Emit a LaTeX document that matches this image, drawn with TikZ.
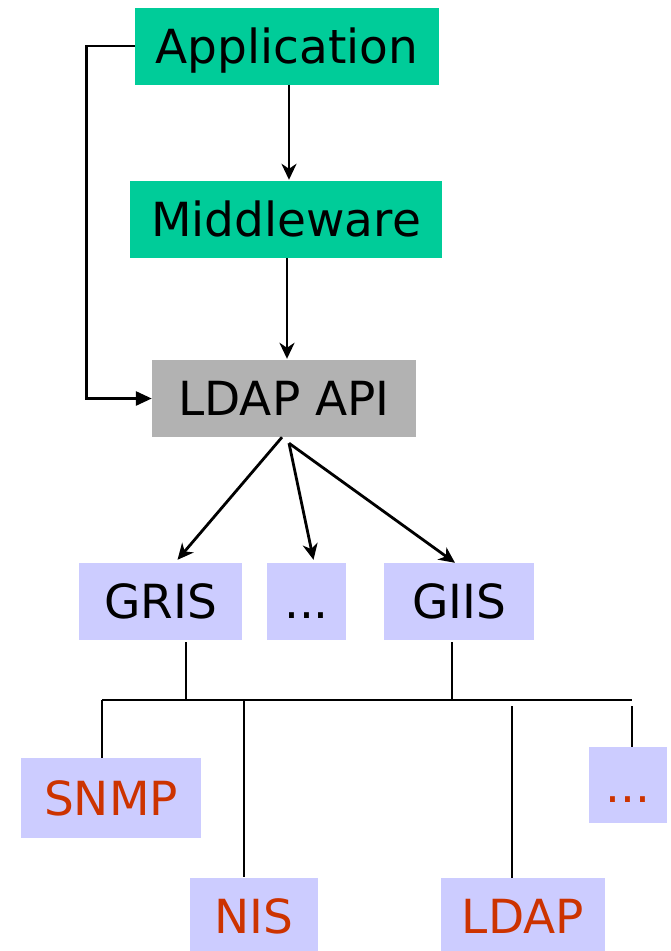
\documentclass[tikz,border=0pt]{standalone}
\usepackage{fontspec}
\setmainfont{DejaVu Sans}
\usepackage{xcolor}
\definecolor{boxgreen}{RGB}{0,204,153}
\definecolor{boxgray}{RGB}{178,178,178}
\definecolor{boxlav}{RGB}{204,204,255}
\definecolor{srcred}{RGB}{204,51,0}
\usetikzlibrary{arrows.meta}

\begin{document}
\begin{tikzpicture}[
    x=1pt, y=-1pt,
    box/.style={rectangle, inner sep=0pt, font=\fontsize{47}{50}\selectfont,
                text height=34pt, text depth=0pt, minimum height=77pt},
    appbox/.style={box, fill=boxgreen},
    apibox/.style={box, fill=boxgray},
    infobox/.style={box, fill=boxlav},
    srcbox/.style={infobox, text=srcred},
    link/.style={black, line width=2.8pt},
    arr/.style={link, -{Stealth[length=16pt, width=15pt, inset=5pt]}},
    sidearr/.style={link, -{Triangle[length=16pt, width=14pt]}},
  ]
    \clip (0,0) rectangle (671,951);

    % --- Upper layers ---
    \node[appbox, minimum width=304pt] (app) at (287,46)    {Application};
    \node[appbox, minimum width=312pt] (mid) at (286,219.5) {Middleware};
    \node[apibox, minimum width=264pt] (api) at (284,398.5) {LDAP API};

    % --- Information services ---
    \node[infobox, minimum width=163pt] (gris) at (160.5,601.5) {GRIS};
    \node[infobox, minimum width=79pt]  (more) at (306.5,601.5) {...};
    \node[infobox, minimum width=150pt] (giis) at (459,601.5)   {GIIS};

    % --- Sources ---
    \node[srcbox, minimum width=180pt, minimum height=80pt] (snmp)    at (111,798) {SNMP};
    \node[srcbox, minimum width=78pt, minimum height=76pt]  (srcmore) at (628,785) {...};
    \node[srcbox, minimum width=128pt] (nis)  at (254,916.5) {NIS};
    \node[srcbox, minimum width=164pt] (ldap) at (523,916.5) {LDAP};

    % --- Arrows down to the API ---
    \draw[arr] ([xshift=2pt]app.south) -- ([xshift=2pt,yshift=1pt]app.south |- mid.north);
    \draw[arr] ([xshift=1pt]mid.south) -- ([xshift=1pt,yshift=1pt]mid.south |- api.north);
    \draw[sidearr] (app.west) -- ++(-48,0) |- (api.west);

    % --- Fan out of the API ---
    \draw[arr] ([xshift=-2pt]api.south) -- ([xshift=17pt,yshift=3pt]gris.north);
    \draw[arr] ([xshift=5pt,yshift=-6pt]api.south) -- ([xshift=7pt,yshift=3pt]more.north);
    \draw[arr] ([xshift=5pt,yshift=-6pt]api.south) -- ([xshift=-4pt]giis.north);

    % --- Bus to the sources ---
    \coordinate (bus)  at (0,700);
    \coordinate (bus2) at (0,706);
    \draw[link] ([xshift=-9pt]snmp.north |- bus) -- ([xshift=4pt]srcmore.north |- bus);
    \draw[link] ([xshift=25.5pt,yshift=-2pt]gris.south) -- ([xshift=25.5pt]gris.south |- bus);
    \draw[link] ([xshift=-7pt,yshift=-2pt]giis.south) -- ([xshift=-7pt]giis.south |- bus);
    \draw[link] ([xshift=-9pt]snmp.north) -- ([xshift=-9pt]snmp.north |- bus);
    \draw[link] ([xshift=-10pt,yshift=1pt]nis.north) -- ([xshift=-10pt]nis.north |- bus);
    \draw[link] ([xshift=-11pt]ldap.north) -- ([xshift=-11pt]ldap.north |- bus2);
    \draw[link] ([xshift=4pt]srcmore.north) -- ([xshift=4pt]srcmore.north |- bus2);
  \end{tikzpicture}
\end{document}
